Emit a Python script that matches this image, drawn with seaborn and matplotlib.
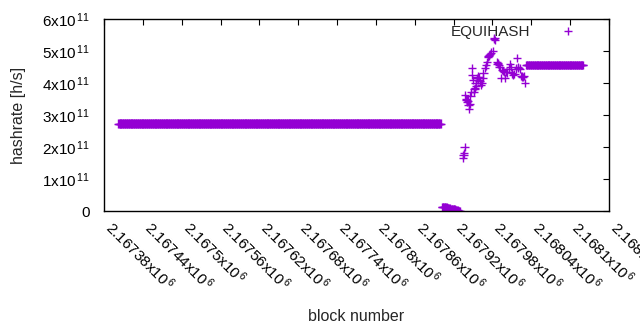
import numpy as np
import pandas as pd
import matplotlib
matplotlib.use('Agg')
import matplotlib.pyplot as plt
import seaborn as sns

# ---- data ----------------------------------------------------------------
# long flat stretches (first block, last block, hashrate)
flat_segments = [(2167402, 2167900, 2.73e11),
                 (2168032, 2168120, 4.56e11)]

# the drop to zero right after the first flat stretch
drop_blocks = list(range(2167902, 2167931))
drop_values = [0.13e11] * 8 + [0.10e11] * 5 + [0.07e11] * 8 + [0.04e11] * 4 + [0.01e11] * 3 + [0.0]

# scattered blocks while the hashrate recovers
rise_blocks = [2167934, 2167935, 2167936, 2167937,
               2167938, 2167939, 2167940, 2167941, 2167942, 2167943, 2167944, 2167945,
               2167946, 2167947, 2167948, 2167949, 2167950, 2167951, 2167952, 2167953,
               2167954, 2167955, 2167956, 2167957, 2167958, 2167959, 2167960, 2167962,
               2167964, 2167965, 2167966, 2167968, 2167970, 2167972, 2167973, 2167974,
               2167975, 2167976, 2167978, 2167981, 2167982, 2167983, 2167984, 2167987,
               2167988, 2167989, 2167990, 2167991, 2167993, 2167995, 2167996, 2167998,
               2167999, 2168001, 2168003, 2168005, 2168007, 2168008, 2168010, 2168012,
               2168014, 2168016, 2168018, 2168019, 2168020, 2168022, 2168024, 2168026,
               2168027, 2168028, 2168030]
rise_values = [1.65, 1.75, 1.80, 2.00,
               3.62, 3.50, 3.47, 3.40, 3.45, 3.31, 3.19, 3.35,
               3.60, 3.72, 4.47, 4.25, 4.10, 3.72, 3.80, 3.84,
               4.00, 3.90, 4.16, 4.20, 4.10, 4.19, 4.05, 3.95,
               4.00, 4.16, 4.30, 4.47, 4.55, 4.66, 4.81, 4.85,
               4.88, 4.90, 4.95, 5.00, 5.37, 5.40, 5.35, 4.66,
               4.60, 4.62, 4.55, 4.50, 4.16, 4.41, 4.38, 4.34,
               4.16, 4.35, 4.33, 4.45, 4.59, 4.50, 4.30, 4.25,
               4.28, 4.45, 4.78, 4.50, 4.47, 4.45, 4.22, 4.20,
               4.19, 4.22, 4.00]

x_ticks = [2167380, 2167440, 2167500, 2167560, 2167620, 2167680, 2167740,
           2167800, 2167860, 2167920, 2167980, 2168040, 2168100, 2168160]
x_tick_labels = ['2.16738', '2.16744', '2.1675', '2.16756', '2.16762', '2.16768',
                 '2.16774', '2.1678', '2.16786', '2.16792', '2.16798', '2.16804',
                 '2.1681', '2.16816']
y_ticks = [0, 1e11, 2e11, 3e11, 4e11, 5e11, 6e11]
y_tick_labels = ['0', '1', '2', '3', '4', '5', '6']

# ---- build one table ------------------------------------------------------
parts = []
for start, end, val in flat_segments:
    b = np.arange(start, end + 1)
    parts.append(pd.DataFrame({'block': b, 'hashrate': np.full(len(b), val)}))
parts.append(pd.DataFrame({'block': drop_blocks, 'hashrate': drop_values}))
parts.append(pd.DataFrame({'block': rise_blocks, 'hashrate': np.array(rise_values) * 1e11}))
df = pd.concat(parts, ignore_index=True)
df['algo'] = 'EQUIHASH'

# ---- style ---------------------------------------------------------------
sns.set_style('white')
plt.rcParams['font.family'] = ['Liberation Sans', 'DejaVu Sans']
plt.rcParams['mathtext.fontset'] = 'custom'
plt.rcParams['mathtext.rm'] = 'Liberation Sans'
plt.rcParams['mathtext.it'] = 'Liberation Sans'
plt.rcParams['font.size'] = 11

fig = plt.figure(figsize=(6.4, 3.3), dpi=100)
ax = fig.add_axes([0.1625, 0.3606, 0.7891, 0.5818])

sns.scatterplot(data=df, x='block', y='hashrate', hue='algo', palette=['#9400d3'],
                marker='+', s=36, linewidth=1.0, ax=ax)

ax.set_xlim(2167380, 2168160)
ax.set_ylim(0, 6e11)
ax.set_xticks(x_ticks)
ax.set_xticklabels([t + r'x10$^{\,6}$' for t in x_tick_labels],
                   rotation=-45, ha='left', va='baseline', rotation_mode='anchor')
ax.set_yticks(y_ticks)
ax.set_yticklabels([t if t == '0' else t + r'x10$^{\,11}$' for t in y_tick_labels])

ax.tick_params(direction='in', length=4, width=0.8, top=True, right=True,
               labelsize=11, colors='black')
ax.tick_params(axis='x', pad=13)
ax.tick_params(axis='y', pad=10)
for sp in ax.spines.values():
    sp.set_visible(True)
    sp.set_color('black')
    sp.set_linewidth(1)

ax.set_xlabel('block number', fontsize=11.5)
ax.set_ylabel('hashrate [h/s]', fontsize=11.5)
ax.xaxis.set_label_coords(0.5, -0.508)
ax.yaxis.set_label_coords(-0.155, 0.5)

leg = ax.legend(loc='center right', bbox_to_anchor=(0.933, 0.932), frameon=False,
                markerfirst=False, handlelength=1.0, handletextpad=1.95,
                fontsize=11, borderaxespad=0, borderpad=0)

fig.savefig('out.png', dpi=100)
